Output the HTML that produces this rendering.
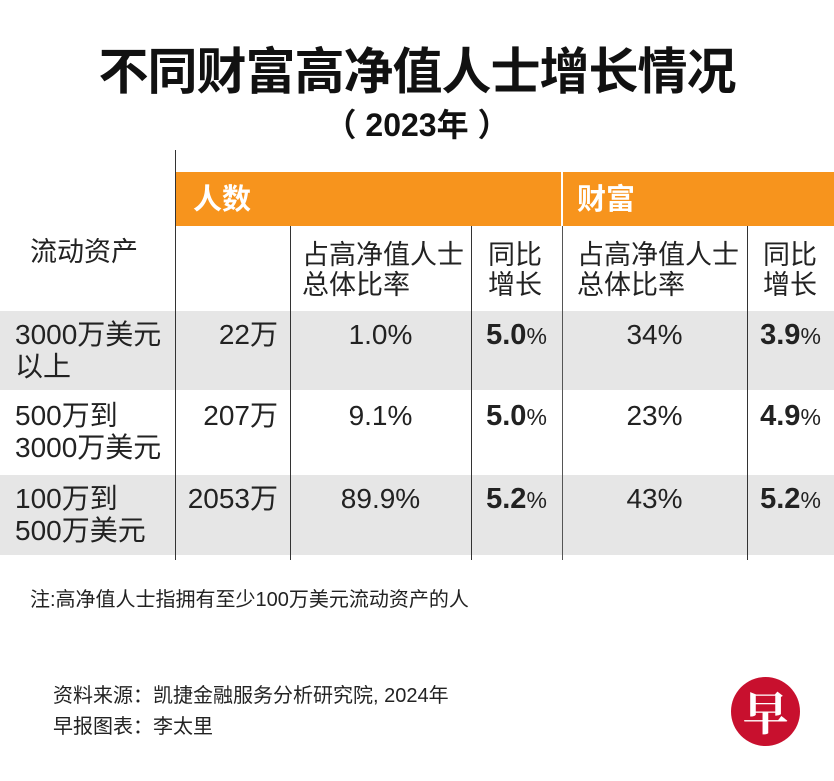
<!DOCTYPE html>
<html><head><meta charset="utf-8"><style>
body{margin:0;width:834px;height:781px;background:#fff;position:relative;overflow:hidden;font-family:"Liberation Sans","Noto Sans CJK SC",sans-serif;color:#222}
.a{position:absolute;white-space:nowrap}
.t{font-size:27px;line-height:30px}
.b{font-weight:bold}
.line{position:absolute;background:#333;width:1px}
</style></head><body>
<div class="a b" style="left:0;width:834px;text-align:center;top:42px;font-size:50px;line-height:60px;color:#111;letter-spacing:-1px">不同财富高净值人士增长情况</div>
<div class="a b" style="left:0;width:834px;text-align:center;top:106px;font-size:32px;line-height:38px;color:#111">（ 2023年 ）</div>

<div class="a" style="left:175px;top:172px;width:386px;height:54px;background:#f7941d"></div>
<div class="a" style="left:563px;top:172px;width:271px;height:54px;background:#f7941d"></div>
<div class="a b" style="left:193px;top:184px;font-size:29px;line-height:32px;color:#fff">人数</div>
<div class="a b" style="left:577px;top:184px;font-size:29px;line-height:32px;color:#fff">财富</div>

<div class="a t" style="left:30px;top:237px">流动资产</div>
<div class="a t" style="left:302px;top:240px">占高净值人士<br>总体比率</div>
<div class="a t" style="left:488px;top:240px">同比<br>增长</div>
<div class="a t" style="left:577px;top:240px">占高净值人士<br>总体比率</div>
<div class="a t" style="left:763px;top:240px">同比<br>增长</div>

<div class="a" style="left:0;top:311px;width:834px;height:79px;background:#e6e6e6"></div>
<div class="a" style="left:0;top:475px;width:834px;height:80px;background:#e6e6e6"></div>

<div class="line" style="left:175px;top:150px;height:410px"></div>
<div class="line" style="left:290px;top:226px;height:334px"></div>
<div class="line" style="left:471px;top:226px;height:334px"></div>
<div class="line" style="left:562px;top:226px;height:334px;background:#555"></div>
<div class="line" style="left:747px;top:226px;height:334px"></div>

<div id="rows"></div>

<div class="a" style="left:30px;top:588px;font-size:20px;line-height:24px">注:高净值人士指拥有至少100万美元流动资产的人</div>
<div class="a" style="left:53px;top:684px;font-size:20px;line-height:24px">资料来源：凯捷金融服务分析研究院, 2024年</div>
<div class="a" style="left:53px;top:715px;font-size:20px;line-height:24px">早报图表：李太里</div>
<div class="a" style="left:731px;top:677px;width:69px;height:69px;border-radius:50%;background:#c8102e;color:#fff;font-size:46px;line-height:69px;text-align:center;font-weight:bold;font-family:'Noto Serif CJK SC',serif">早</div>

<script>
const labels=[["3000万美元","以上"],["500万到","3000万美元"],["100万到","500万美元"]];
const counts=["22万","207万","2053万"];
const peopleShare=["1.0%","9.1%","89.9%"];
const peopleGrowth=["5.0","5.0","5.2"];
const wealthShare=["34%","23%","43%"];
const wealthGrowth=["3.9","4.9","5.2"];
const tops=[311,392,475];
const host=document.getElementById('rows');
function add(html,style,name){const d=document.createElement('div');d.className='a t';d.style.cssText=style;d.innerHTML=html;


host.appendChild(d);}
labels.forEach((l,i)=>{const y=tops[i];
add(l[0]+'<br>'+l[1],`left:15px;top:${y+8}px;font-size:28px;line-height:32px`,'row-label');
add(counts[i],`left:175px;width:103px;text-align:right;top:${y+9}px;font-size:28px`,'count-cell');
add(peopleShare[i],`left:290px;width:181px;text-align:center;top:${y+9}px;font-size:28px`,'people-share-cell');
add(`<b style="font-size:29px">${peopleGrowth[i]}</b><span style="font-size:23px">%</span>`,`left:471px;width:91px;text-align:center;top:${y+9}px`,'people-growth-cell');
add(wealthShare[i],`left:562px;width:185px;text-align:center;top:${y+9}px;font-size:28px`,'wealth-share-cell');
add(`<b style="font-size:29px">${wealthGrowth[i]}</b><span style="font-size:23px">%</span>`,`left:747px;width:87px;text-align:center;top:${y+9}px`,'wealth-growth-cell');
});
</script>
</body></html>
